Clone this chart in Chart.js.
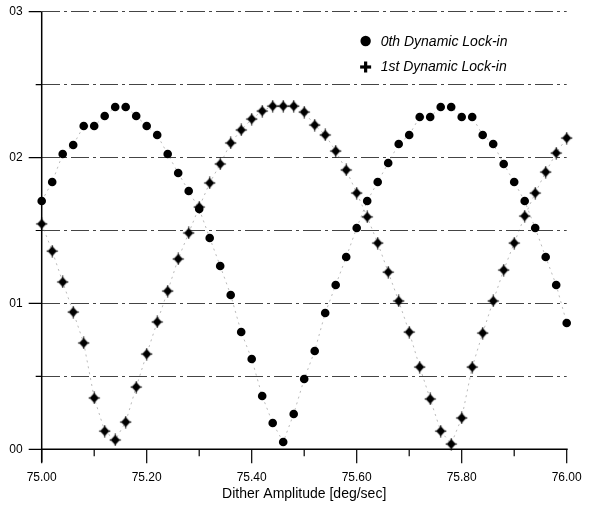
<!DOCTYPE html>
<html>
<head>
<meta charset="utf-8">
<script src="https://cdn.jsdelivr.net/npm/chart.js@4"></script>
<style>
html,body{margin:0;padding:0;background:#fff;}
#c{position:absolute;left:0;top:0;}
</style>
</head>
<body>
<canvas id="c" width="592" height="506"></canvas>
<script>
// ---- data ----
const ditherAmplitude = [75.00,75.02,75.04,75.06,75.08,75.10,75.12,75.14,75.16,75.18,
  75.20,75.22,75.24,75.26,75.28,75.30,75.32,75.34,75.36,75.38,
  75.40,75.42,75.44,75.46,75.48,75.50,75.52,75.54,75.56,75.58,
  75.60,75.62,75.64,75.66,75.68,75.70,75.72,75.74,75.76,75.78,
  75.80,75.82,75.84,75.86,75.88,75.90,75.92,75.94,75.96,75.98,76.00];
const lockIn0 = [0.01702,0.01832,0.02024,0.02086,0.02216,0.02216,0.02285,0.02347,0.02347,0.02285,
  0.02216,0.02155,0.02024,0.01894,0.01771,0.01647,0.01449,0.01257,0.01058,0.00804,
  0.00619,0.00365,0.00180,0.00050,0.00242,0.00482,0.00674,0.00934,0.01126,0.01318,
  0.01517,0.01702,0.01832,0.01963,0.02093,0.02155,0.02278,0.02278,0.02347,0.02347,
  0.02278,0.02278,0.02155,0.02093,0.01956,0.01832,0.01702,0.01517,0.01318,0.01126,0.00866];
const lockIn1 = [0.01545,0.01359,0.01147,0.00941,0.00729,0.00352,0.00125,0.00064,0.00187,0.00427,
  0.00653,0.00873,0.01085,0.01305,0.01483,0.01661,0.01826,0.01956,0.02100,0.02189,
  0.02264,0.02319,0.02353,0.02353,0.02353,0.02312,0.02223,0.02155,0.02045,0.01915,
  0.01757,0.01593,0.01414,0.01215,0.01017,0.00804,0.00564,0.00345,0.00125,0.00036,
  0.00215,0.00564,0.00797,0.01017,0.01229,0.01414,0.01599,0.01757,0.01901,0.02031,0.02134];
const seriesNames = ['0th Dynamic Lock-in','1st Dynamic Lock-in'];
const xTickLabels = ['75.00','75.20','75.40','75.60','75.80','76.00'];
const yTickLabels = ['00','01','02','03'];
const xAxisTitle = 'Dither Amplitude [deg/sec]';

const FONT = "'Liberation Sans', Arial, Helvetica, sans-serif";

// custom marker: solid diamond with a small plus
function makeDiamondPlus(){
  const s = 13, c = document.createElement('canvas');
  c.width = s; c.height = s;
  const g = c.getContext('2d'), m = s/2;
  g.fillStyle = '#000';
  g.beginPath();
  g.moveTo(m, m-5); g.lineTo(m+4.6, m); g.lineTo(m, m+5); g.lineTo(m-4.6, m);
  g.closePath(); g.fill();
  g.fillRect(m-0.6, m-6, 1.2, 12);
  g.fillRect(m-5.6, m-0.6, 11.2, 1.2);
  return c;
}
const diamondPlus = makeDiamondPlus();

const pts = (ys) => ditherAmplitude.map((x, i) => ({x: x, y: ys[i]}));

const customPlugin = {
  id: 'custom',
  afterDraw(chart){
    const ctx = chart.ctx, a = chart.chartArea;
    const xs = chart.scales.x, ys = chart.scales.y;
    ctx.save();
    ctx.strokeStyle = '#000';
    ctx.lineWidth = 1.5;
    // axes
    ctx.beginPath();
    ctx.moveTo(a.left, a.top); ctx.lineTo(a.left, a.bottom + 13);
    ctx.moveTo(a.left, a.bottom); ctx.lineTo(a.right + 1, a.bottom);
    ctx.stroke();
    // y ticks
    ctx.lineWidth = 1.2;
    ctx.beginPath();
    ys.ticks.forEach(t => {
      const p = ys.getPixelForValue(t.value);
      const major = Math.round(t.value * 1000) % 10 === 0;
      ctx.moveTo(a.left - (major ? 13 : 6), p); ctx.lineTo(a.left, p);
    });
    // x ticks
    xs.ticks.forEach(t => {
      const p = xs.getPixelForValue(t.value);
      const major = Math.round(t.value * 10) % 2 === 0;
      ctx.moveTo(p, a.bottom); ctx.lineTo(p, a.bottom + (major ? 14 : 7));
    });
    ctx.stroke();
    // axis title
    ctx.fillStyle = '#000';
    ctx.font = '14px ' + FONT;
    ctx.textAlign = 'center';
    ctx.textBaseline = 'middle';
    ctx.fillText(xAxisTitle, (a.left + a.right) / 2, 494);
    // legend
    const lx = a.left + 0.617 * (a.right - a.left);
    const ly0 = 41, ly1 = 67;
    ctx.beginPath(); ctx.arc(lx, ly0, 5.2, 0, Math.PI * 2); ctx.fill();
    ctx.fillRect(lx - 5.5, ly1 - 1.6, 11, 3.2);
    ctx.fillRect(lx - 1.6, ly1 - 5.5, 3.2, 11);
    ctx.font = 'italic 14px ' + FONT;
    ctx.textAlign = 'left';
    ctx.fillText(seriesNames[0], lx + 15, ly0 + 1);
    ctx.fillText(seriesNames[1], lx + 15, ly1);
    ctx.restore();
  }
};

new Chart(document.getElementById('c'), {
  type: 'scatter',
  data: {
    datasets: [
      {label: seriesNames[0], data: pts(lockIn0), showLine: true,
       borderColor: 'rgba(110,110,110,0.6)', borderWidth: 0.8, borderDash: [2,4],
       pointStyle: 'circle', pointRadius: 4.3, pointBackgroundColor: '#000',
       pointBorderWidth: 0, clip: false},
      {label: seriesNames[1], data: pts(lockIn1), showLine: true,
       borderColor: 'rgba(110,110,110,0.6)', borderWidth: 0.8, borderDash: [2,4],
       pointStyle: diamondPlus, pointRadius: 5, pointBackgroundColor: '#000',
       pointBorderWidth: 0, clip: false}
    ]
  },
  options: {
    responsive: false,
    animation: false,
    events: [],
    layout: {padding: {left: 0, top: 11.7, right: 25.3, bottom: 0}},
    plugins: {legend: {display: false}, tooltip: {enabled: false}},
    scales: {
      x: {
        type: 'linear', min: 75, max: 76,
        grid: {display: false, drawTicks: false},
        border: {display: false},
        ticks: {
          stepSize: 0.1, autoSkip: false, maxRotation: 0, padding: 21,
          color: '#000', font: {family: FONT, size: 12},
          callback: (v) => {
            const k = Math.round(v * 10);
            return k % 2 === 0 ? xTickLabels[(k - 750) / 2] : '';
          }
        },
        afterFit(s){ s.height = 56.7; s.paddingLeft = 0; s.paddingRight = 0; }
      },
      y: {
        type: 'linear', min: 0, max: 0.03,
        grid: {display: true, drawTicks: false, color: '#444', lineWidth: 1},
        border: {display: false, dash: [18,4,3,4]},
        ticks: {
          stepSize: 0.005, autoSkip: false, padding: 19,
          color: '#000', font: {family: FONT, size: 12},
          callback: (v) => {
            const k = Math.round(v * 1000);
            return k % 10 === 0 ? yTickLabels[k / 10] : '';
          }
        },
        afterFit(s){ s.width = 41.7; s.paddingTop = 0; s.paddingBottom = 0; }
      }
    }
  },
  plugins: [customPlugin]
});
</script>
</body>
</html>
